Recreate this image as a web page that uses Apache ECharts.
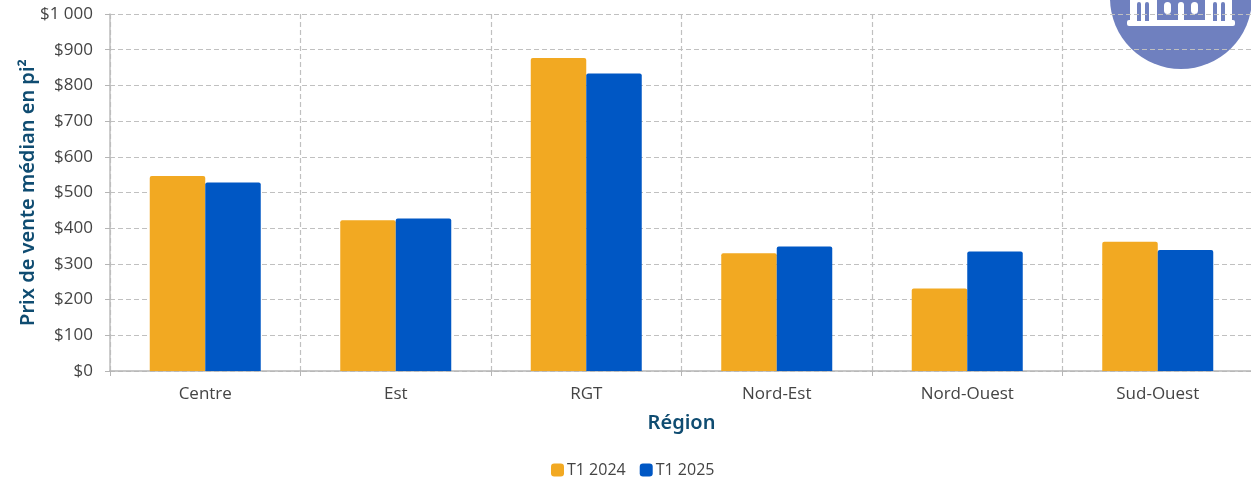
<!DOCTYPE html>
<html>
<head>
<meta charset="utf-8">
<style>html,body{margin:0;padding:0;background:#fff}#c{width:1251px;height:480px}</style>
<script src="https://cdn.jsdelivr.net/npm/echarts@6/dist/echarts.min.js"></script>
</head>
<body>
<div id="c"></div>
<script>
const regions = ['Centre', 'Est', 'RGT', 'Nord-Est', 'Nord-Ouest', 'Sud-Ouest'];
const t1_2024 = [546, 422, 877, 330, 231, 362];
const t1_2025 = [528, 427, 833, 349, 335, 339];
const priceTicks = ['$0', '$100', '$200', '$300', '$400', '$500', '$600', '$700', '$800', '$900', '$1 000'];

const chart = echarts.init(document.getElementById('c'));
const tickFont = '"Open Sans", Lato, sans-serif';
const titleFont = '"Noto Sans", "Open Sans", sans-serif';
const logoBlue = '#6F80BF';
const gridLine = { color: '#c0c0c0', type: [5, 3], width: 1.2 };

// Emblem in the top-right corner: a disc holding a white building
function building() {
  const white = { fill: '#fff' };
  const blue = { fill: logoBlue };
  const rect = (x, y, width, height, style, r) => ({
    type: 'rect', silent: true, z: -1, shape: { x, y, width, height, r: r || 0 }, style
  });
  return [
    { type: 'circle', silent: true, z: -2, shape: { cx: 1181, cy: -2, r: 71 }, style: { fill: logoBlue } },
    rect(1130, -2, 102, 23, white),
    rect(1127, 20, 108, 6, white, 2),
    rect(1137, 2, 4, 19, blue, [2, 2, 0, 0]),
    rect(1145, 2, 4, 19, blue, [2, 2, 0, 0]),
    rect(1157, -2, 48, 22, blue),
    rect(1213, 2, 4, 19, blue, [2, 2, 0, 0]),
    rect(1221, 2, 4, 19, blue, [2, 2, 0, 0]),
    rect(1164, 2, 7, 12, white, 3.5),
    rect(1191, 2, 7, 12, white, 3.5),
    rect(1178, 2, 6, 18, white, [3, 3, 0, 0])
  ];
}

chart.setOption({
  animation: false,
  backgroundColor: '#fff',
  color: ['#F2A922', '#0057C4'],
  grid: { left: 110, top: 14, width: 1143, height: 357, outerBoundsMode: 'none' },
  legend: {
    top: 462,
    left: 551,
    itemWidth: 13,
    itemHeight: 13,
    itemGap: 14,
    padding: 0,
    icon: 'roundRect',
    textStyle: { fontFamily: tickFont, fontSize: 16, color: '#444', padding: [0, 0, 0, -2] }
  },
  xAxis: {
    type: 'category',
    data: regions,
    name: 'Région',
    nameLocation: 'middle',
    nameGap: 42,
    nameMoveOverlap: false,
    nameTextStyle: { fontFamily: titleFont, fontSize: 20, fontWeight: 600, color: '#0F4C71' },
    axisLine: { lineStyle: { color: '#b5b5b5', width: 1.5 } },
    axisTick: { show: true, length: 5, lineStyle: { color: '#b5b5b5', width: 1 } },
    axisLabel: { fontFamily: tickFont, fontSize: 17, color: '#444', margin: 15 },
    splitLine: { show: true, lineStyle: gridLine }
  },
  yAxis: {
    type: 'value',
    min: 0,
    max: 1000,
    interval: 100,
    name: 'Prix de vente médian en pi²',
    nameLocation: 'middle',
    nameGap: 72,
    nameMoveOverlap: false,
    nameTextStyle: { fontFamily: titleFont, fontSize: 20, fontWeight: 600, color: '#0F4C71' },
    axisLine: { show: true, lineStyle: { color: '#bdbdbd', width: 1.5 } },
    axisTick: { show: true, length: 5, lineStyle: { color: '#b5b5b5', width: 1 } },
    axisLabel: {
      fontFamily: tickFont,
      fontSize: 17,
      color: '#444',
      margin: 17,
      formatter: (v) => priceTicks[v / 100]
    },
    splitLine: { show: true, lineStyle: gridLine }
  },
  graphic: building(),
  series: [
    { name: 'T1 2024', type: 'bar', data: t1_2024, barWidth: 55.5, barGap: 0, itemStyle: { borderRadius: [2, 2, 0, 0] } },
    { name: 'T1 2025', type: 'bar', data: t1_2025, barWidth: 55.5, barGap: 0, itemStyle: { borderRadius: [2, 2, 0, 0] } }
  ]
});
</script>
</body>
</html>
